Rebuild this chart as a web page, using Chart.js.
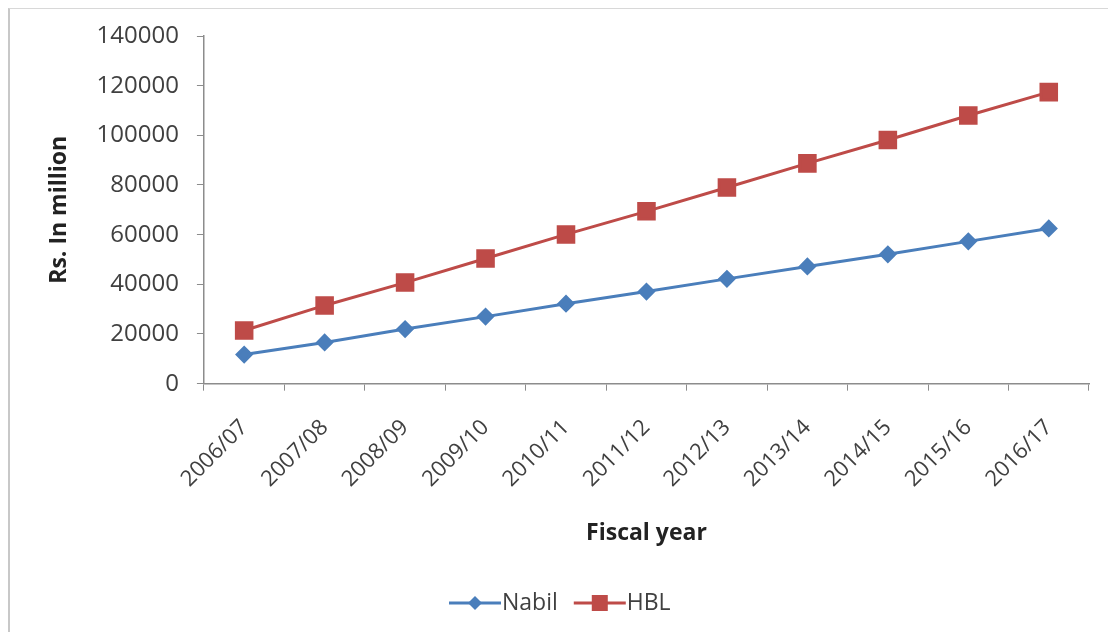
<!DOCTYPE html>
<html>
<head>
<meta charset="utf-8">
<script src="https://cdn.jsdelivr.net/npm/chart.js@4.4.1/dist/chart.umd.min.js"></script>
<style>
  html, body { margin: 0; padding: 0; background: #fff; }
  #wrap { position: relative; width: 1108px; height: 632px; overflow: hidden; }
  #frame { position: absolute; left: 8px; top: 8px; width: 1110px; height: 640px;
           border-left: 2px solid #c8c8c8; border-top: 1px solid #d8d8d8; box-sizing: border-box; }
  canvas { position: absolute; left: 0; top: 0; }
</style>
</head>
<body>
<div id="wrap">
  <div id="frame"></div>
  <canvas id="chart" width="1108" height="632"></canvas>
</div>
<script>
// ── 資料 ──
const years = ['2006/07', '2007/08', '2008/09', '2009/10', '2010/11', '2011/12',
               '2012/13', '2013/14', '2014/15', '2015/16', '2016/17'];
const nabil = [11700, 16600, 22000, 27000, 32200, 37100, 42200, 47200, 52100, 57300, 62500];
const hbl   = [21400, 31500, 40700, 50400, 60100, 69400, 79000, 88700, 98100, 108000, 117400];
const yTicks = [0, 20000, 40000, 60000, 80000, 100000, 120000, 140000];

const C = {
  blue:  '#4a7ebb',
  red:   '#be4b48',
  axis:  '#8c8c8c',
  text:  '#404040',
  font:  '"Open Sans", "DejaVu Sans", sans-serif',
};

// ── Excel 風格圖例：線 + 標記 + 文字 ──
const lineLegend = {
  id: 'lineLegend',
  afterDraw(chart) {
    const ctx = chart.ctx;
    const y = 603;
    let x = 449;
    ctx.save();
    ctx.font = '23px ' + C.font;
    ctx.textBaseline = 'middle';
    chart.data.datasets.forEach(ds => {
      ctx.strokeStyle = ds.borderColor;
      ctx.lineWidth = 3;
      ctx.beginPath();
      ctx.moveTo(x, y);
      ctx.lineTo(x + 52, y);
      ctx.stroke();
      ctx.fillStyle = ds.pointBackgroundColor;
      const cx = x + 26;
      if (ds.pointStyle === 'rect') {
        ctx.fillRect(cx - 8, y - 8, 16, 16);
      } else {
        ctx.beginPath();
        ctx.moveTo(cx, y - 7); ctx.lineTo(cx + 7, y); ctx.lineTo(cx, y + 7); ctx.lineTo(cx - 7, y);
        ctx.closePath(); ctx.fill();
      }
      ctx.fillStyle = C.text;
      ctx.fillText(ds.label, x + 53, y);
      x += 53 + ctx.measureText(ds.label).width + 16;
    });
    ctx.restore();
  }
};

new Chart(document.getElementById('chart'), {
  type: 'line',
  data: {
    labels: years,
    datasets: [
      {
        label: 'Nabil',
        data: nabil,
        borderColor: C.blue,
        backgroundColor: C.blue,
        pointBackgroundColor: C.blue,
        pointBorderColor: C.blue,
        borderWidth: 3,
        pointStyle: 'rectRot',
        pointRadius: 7,
        tension: 0,
      },
      {
        label: 'HBL',
        data: hbl,
        borderColor: C.red,
        backgroundColor: C.red,
        pointBackgroundColor: C.red,
        pointBorderColor: C.red,
        borderWidth: 3,
        pointStyle: 'rect',
        pointRadius: 11,
        tension: 0,
      },
    ],
  },
  options: {
    responsive: false,
    animation: false,
    layout: { padding: { left: 46, right: 19, top: 36, bottom: 85 } },
    plugins: {
      legend: { display: false },
      tooltip: { enabled: false },
    },
    scales: {
      x: {
        offset: true,
        grid: { offset: true, drawOnChartArea: false, drawTicks: true, tickLength: 7, color: C.axis },
        border: { color: C.axis, width: 1.5 },
        ticks: {
          color: C.text, font: { family: C.font, size: 22 },
          maxRotation: 45, minRotation: 45, padding: 24, autoSkip: false,
        },
        title: {
          display: true, text: 'Fiscal year', color: '#222',
          font: { family: C.font, size: 23, weight: 'bold' }, padding: { top: 3, bottom: 0 },
        },
      },
      y: {
        min: 0, max: 140000,
        afterBuildTicks: axis => { axis.ticks = yTicks.map(v => ({ value: v })); },
        grid: { drawOnChartArea: false, drawTicks: true, tickLength: 7, color: C.axis },
        border: { color: C.axis, width: 1.5 },
        ticks: {
          color: C.text, font: { family: C.font, size: 24 }, padding: 18,
          callback: v => String(v),
        },
        title: {
          display: true, text: 'Rs. In million', color: '#222',
          font: { family: C.font, size: 23, weight: 'bold' }, padding: { top: 0, bottom: 5 },
        },
      },
    },
  },
  plugins: [lineLegend],
});
</script>
</body>
</html>
